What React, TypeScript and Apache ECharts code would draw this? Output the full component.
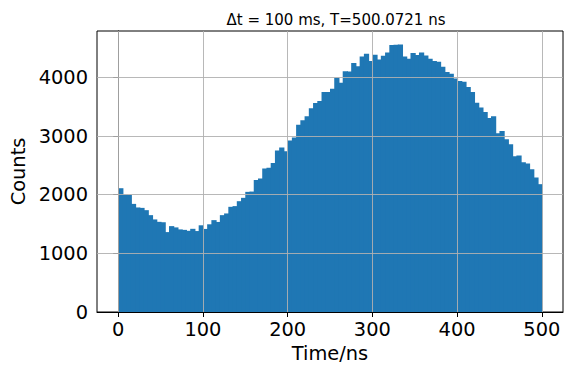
import React, { useEffect, useRef } from "react";
import * as echarts from "echarts";

// Histogram: 100 bins of 5 ns from 0 to 500 ns
const BIN_START = 0;
const BIN_WIDTH = 5;
const counts: number[] = [
  2110, 2000, 1995, 1843, 1782, 1775, 1736, 1651, 1578, 1537,
  1530, 1362, 1464, 1442, 1408, 1400, 1384, 1418, 1380, 1478,
  1416, 1495, 1566, 1535, 1651, 1680, 1793, 1805, 1889, 1946,
  2048, 2053, 2252, 2275, 2445, 2457, 2542, 2752, 2803, 2740,
  2922, 2973, 3190, 3268, 3336, 3472, 3563, 3597, 3750, 3752,
  3807, 3995, 3909, 4102, 4100, 4244, 4187, 4357, 4403, 4278,
  4386, 4306, 4369, 4425, 4553, 4556, 4560, 4357, 4318, 4414,
  4380, 4425, 4374, 4318, 4278, 4267, 4182, 4091, 4060, 3980,
  3937, 3926, 3835, 3750, 3569, 3484, 3410, 3308, 3336, 3047,
  3086, 2945, 2860, 2655, 2667, 2553, 2530, 2434, 2292, 2179,
];
const xTicks: number[] = [0, 100, 200, 300, 400, 500];
const yTicks: number[] = [0, 1000, 2000, 3000, 4000];
const X_MIN = -25;
const X_MAX = 525;
const Y_MAX = 4790;
const TITLE = "Δt = 100 ms, T=500.0721 ns";
const X_NAME = "Time/ns";
const Y_NAME = "Counts";

const FONT = "DejaVu Sans";

export default function App() {
  const ref = useRef<HTMLDivElement>(null);
  useEffect(() => {
    if (!ref.current) return;
    const chart = echarts.init(ref.current, null, { renderer: "svg" });
    const data = counts.map((c, i) => [
      BIN_START + i * BIN_WIDTH,
      BIN_START + (i + 1) * BIN_WIDTH,
      c,
    ]);
    const gridLineData: any[] = [
      ...xTicks.map((v) => ({ xAxis: v })),
      ...yTicks.filter((v) => v > 0).map((v) => ({ yAxis: v })),
    ];
    chart.setOption({
      animation: false,
      title: {
        text: TITLE,
        left: 331,
        textAlign: "center",
        top: 7,
        textStyle: { fontFamily: FONT, fontSize: 15, fontWeight: "normal", color: "#000" },
      },
      grid: {
        left: 97,
        right: 3,
        top: 31,
        bottom: 57,
        outerBoundsMode: "none",
        containLabel: false,
        show: true,
        borderColor: "#000",
        borderWidth: 1,
        backgroundColor: "#fff",
      },
      xAxis: {
        type: "value",
        min: X_MIN,
        max: X_MAX,
        z: 3,
        name: X_NAME,
        nameLocation: "middle",
        nameGap: 31,
        nameTextStyle: { fontFamily: FONT, fontSize: 19.4, color: "#000" },
        axisLine: { show: true, onZero: false, lineStyle: { color: "#000", width: 1 } },
        axisTick: { show: true, length: 5, lineStyle: { color: "#000" }, customValues: xTicks },
        axisLabel: {
          fontFamily: FONT,
          fontSize: 19.4,
          color: "#000",
          margin: 8,
          customValues: xTicks,
          formatter: (v: number) => String(v),
        },
        splitLine: { show: false },
      },
      yAxis: {
        type: "value",
        min: 0,
        max: Y_MAX,
        z: 3,
        name: Y_NAME,
        nameLocation: "middle",
        nameGap: 63,
        nameTextStyle: { fontFamily: FONT, fontSize: 19.4, color: "#000" },
        axisLine: { show: true, lineStyle: { color: "#000", width: 1 } },
        axisTick: { show: true, length: 5, lineStyle: { color: "#000" }, customValues: yTicks },
        axisLabel: {
          fontFamily: FONT,
          fontSize: 19.4,
          color: "#000",
          margin: 9,
          customValues: yTicks,
          formatter: (v: number) => String(v),
        },
        splitLine: { show: false },
      },
      series: [
        {
          type: "custom",
          z: 2,
          renderItem: (params: any, api: any) => {
            const x0 = api.value(0);
            const x1 = api.value(1);
            const y = api.value(2);
            const p0 = api.coord([x0, y]);
            const p1 = api.coord([x1, 0]);
            return {
              type: "rect",
              shape: { x: p0[0], y: p0[1], width: p1[0] - p0[0] + 1, height: p1[1] - p0[1] },
              style: { fill: "#1f77b4" },
            };
          },
          encode: { x: [0, 1], y: 2 },
          data,
        },
        {
          type: "line",
          data: [],
          z: 5,
          silent: true,
          markLine: {
            silent: true,
            symbol: "none",
            label: { show: false },
            lineStyle: { color: "#b0b0b0", width: 1, type: "solid", opacity: 0.9 },
            data: gridLineData,
          },
        },
      ],
    });
    return () => chart.dispose();
  }, []);
  return (
    <div
      ref={ref}
      style={{ position: "fixed", left: 0, top: 0, width: 566, height: 369, background: "#fff" }}
    />
  );
}
